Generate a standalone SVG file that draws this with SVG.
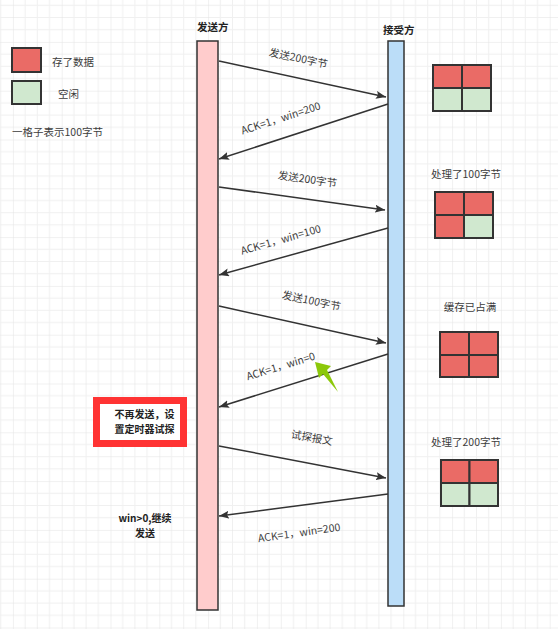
<svg xmlns="http://www.w3.org/2000/svg" width="558" height="629" viewBox="0 0 558 629">
<defs>
<pattern id="grid" patternUnits="userSpaceOnUse" x="12.9" y="41.9" width="48.8" height="48.8">
<path d="M12.2,0V48.8M24.4,0V48.8M36.6,0V48.8M0,12.2H48.8M0,24.4H48.8M0,36.6H48.8" stroke="#f0f0f0" stroke-width="1" fill="none"/>
<path d="M0,0V48.8M0,0H48.8" stroke="#e3e3e3" stroke-width="1" fill="none"/>
</pattern>
<marker id="arr" markerUnits="userSpaceOnUse" markerWidth="11" markerHeight="8" refX="10" refY="4" orient="auto">
<path d="M0,0 L10,4 L0,8 L2,4 z" fill="#333"/>
</marker>
<style>
.t{font-family:"Noto Sans CJK SC","Noto Sans",sans-serif;font-size:10.5px;fill:#3c3c3c;}
.b{font-family:"Noto Sans CJK SC","Noto Sans",sans-serif;font-size:10.5px;font-weight:bold;fill:#222;}
.bs{font-family:"Noto Sans CJK SC","Noto Sans",sans-serif;font-size:10px;font-weight:bold;fill:#222;}
.cell{stroke:#333;stroke-width:2;}
.r{fill:#EA6B66;}
.g{fill:#D0E8CF;}
.conn{stroke:#333;stroke-width:1.5;fill:none;marker-end:url(#arr);}
</style>
</defs>
<rect width="558" height="629" fill="#ffffff"/>
<rect width="558" height="629" fill="url(#grid)"/>

<g id="legend">
<rect class="cell r" x="12" y="48" width="29" height="24"/>
<rect class="cell g" x="12" y="81" width="29" height="23"/>
<text class="t" x="52" y="61" dominant-baseline="central">存了数据</text>
<text class="t" x="58" y="93" dominant-baseline="central">空闲</text>
<text class="t" x="12" y="131" dominant-baseline="central">一格子表示100字节</text>
</g>

<g id="sender">
<rect x="197" y="41" width="21" height="569" fill="#FFCCCC" stroke="#333" stroke-width="1.5"/>
<text class="b" x="197" y="26" dominant-baseline="central">发送方</text>
</g>
<g id="receiver">
<rect x="388" y="41" width="16" height="565" fill="#BBDDF8" stroke="#333" stroke-width="1.5"/>
<text class="b" x="383" y="29" dominant-baseline="central">接受方</text>
</g>

<g id="connectors">
<line class="conn" x1="219" y1="61" x2="386" y2="97"/>
<line class="conn" x1="388" y1="104" x2="219" y2="159"/>
<line class="conn" x1="219" y1="187" x2="385" y2="210"/>
<line class="conn" x1="388" y1="228" x2="219" y2="275"/>
<line class="conn" x1="219" y1="306" x2="386" y2="343"/>
<line class="conn" x1="388" y1="354" x2="219" y2="407"/>
<line class="conn" x1="219" y1="446" x2="386" y2="478"/>
<line class="conn" x1="388" y1="494" x2="219" y2="516"/>
</g>

<g id="labels">
<text class="t" text-anchor="middle" dominant-baseline="central" transform="translate(298.5,57.5) rotate(12)">发送200字节</text>
<text class="t" text-anchor="middle" dominant-baseline="central" transform="translate(280.5,117.5) rotate(-18)">ACK=1，win=200</text>
<text class="t" text-anchor="middle" dominant-baseline="central" transform="translate(307.5,178.5) rotate(8)">发送200字节</text>
<text class="t" text-anchor="middle" dominant-baseline="central" transform="translate(280.5,239) rotate(-16)">ACK=1，win=100</text>
<text class="t" text-anchor="middle" dominant-baseline="central" transform="translate(311.5,300) rotate(12)">发送100字节</text>
<text class="t" text-anchor="middle" dominant-baseline="central" transform="translate(280.5,365.5) rotate(-17)">ACK=1，win=0</text>
<text class="t" text-anchor="middle" dominant-baseline="central" transform="translate(312,437) rotate(10)">试探报文</text>
<text class="t" text-anchor="middle" dominant-baseline="central" transform="translate(299,532) rotate(-8)">ACK=1，win=200</text>
</g>

<g id="pointer">
<polygon points="315,362 331,366 327,370 338,392 323,374 319,378" fill="#8CC80A"/>
</g>

<g id="buffer1">
<rect class="cell r" x="433" y="65" width="29" height="23"/>
<rect class="cell r" x="462" y="65" width="29" height="23"/>
<rect class="cell g" x="433" y="88" width="29" height="23"/>
<rect class="cell g" x="462" y="88" width="29" height="23"/>
</g>

<g id="buffer2">
<text class="t" x="466" y="173" text-anchor="middle" dominant-baseline="central">处理了100字节</text>
<rect class="cell r" x="435" y="192" width="29" height="23"/>
<rect class="cell r" x="464" y="192" width="29" height="23"/>
<rect class="cell r" x="435" y="215" width="29" height="23"/>
<rect class="cell g" x="464" y="215" width="29" height="23"/>
</g>

<g id="buffer3">
<text class="t" x="470" y="306" text-anchor="middle" dominant-baseline="central">缓存已占满</text>
<rect class="cell r" x="440" y="332" width="29" height="23"/>
<rect class="cell r" x="469" y="332" width="29" height="23"/>
<rect class="cell r" x="440" y="355" width="29" height="22"/>
<rect class="cell r" x="469" y="355" width="29" height="22"/>
</g>

<g id="buffer4">
<text class="t" x="466" y="441" text-anchor="middle" dominant-baseline="central">处理了200字节</text>
<rect class="cell r" x="441" y="460" width="28.5" height="23"/>
<rect class="cell r" x="469.5" y="460" width="28.5" height="23"/>
<rect class="cell g" x="441" y="483" width="28.5" height="23"/>
<rect class="cell g" x="469.5" y="483" width="28.5" height="23"/>
</g>

<g id="note-stop">
<rect x="96.5" y="400.5" width="87" height="43" fill="#ffffff" stroke="#FF3333" stroke-width="7"/>
<text class="bs" text-anchor="middle" dominant-baseline="central"><tspan x="144.5" y="413.2">不再发送，设</tspan><tspan x="144.5" y="427.8">置定时器试探</tspan></text>
</g>

<g id="note-resume">
<text class="bs" text-anchor="middle" dominant-baseline="central"><tspan x="145" y="517.2">win&gt;0,继续</tspan><tspan x="145" y="531.8">发送</tspan></text>
</g>
</svg>
